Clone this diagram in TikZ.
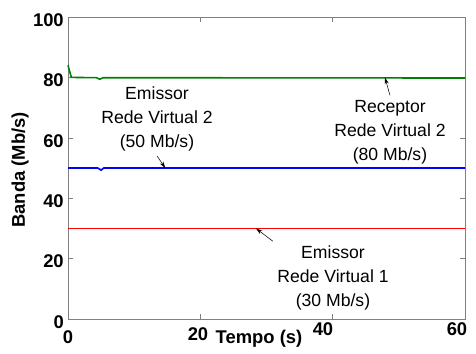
\documentclass[tikz,border=0pt]{standalone}
\usepackage{fontspec}
\setmainfont{Liberation Sans}
\usetikzlibrary{arrows.meta, positioning}
\definecolor{mgreen}{RGB}{0,128,0}

\begin{document}
\begin{tikzpicture}[x=0.75pt, y=0.75pt, >={Stealth[length=5pt, width=3pt]},
  tick/.style={font=\bfseries\fontsize{13.8}{13.8}\selectfont, inner sep=0pt},
  note/.style={align=center, font=\fontsize{13.2}{18}\selectfont},
  frame/.style={draw=gray, line width=0.6pt},
  curve/.style={line width=1.2pt}]
\useasboundingbox (0,0) rectangle (476,354);
% plot area 397 x 302 px
\begin{scope}[shift={(68,35)}, x=4.9625pt, y=2.265pt]
\draw[frame] (0,0) rectangle (60,100);
\foreach \t in {20,40} {
  \draw[gray] (\t,0) -- ++(0,1.5);
  \draw[gray] (\t,100) -- ++(0,-1.5);
}
\foreach \v in {20,40,60,80} {
  \draw[gray] (0,\v) -- ++(0.8,0);
  \draw[gray] (60,\v) -- ++(-0.8,0);
}
% measured bands
\draw[curve, mgreen] (0,84) -- (0.5,80) -- (4.3,79.9) -- (4.8,79.4) -- (5.3,79.9) -- (60,79.8);
\draw[curve, blue] (0,50) -- (4.5,50) -- (5,49.3) -- (5.4,50) -- (60,50);
\draw[curve, red] (0,30) -- (60,30);
\coordinate (p1) at (28.4,30);
\coordinate (p2) at (14.7,50);
\coordinate (p3) at (47.9,80);
\end{scope}

% tick labels
\foreach \v in {0,20,40,60,80,100}
  \node[tick, anchor=east] (y\v) at (64,{32+3.02*\v}) {\v};
\foreach \v/\px/\py in {0/68/17, 20/198/20, 40/323/25, 60/457/25}
  \node[tick] (x\v) at (\px,\py) {\v};
\node[tick, rotate=90] (ylab) at (20,184) {Banda (Mb/s)};
\node[tick] (xlab) at (259,15) {Tempo (s)};

% annotations
\node[note] (em2) at (157,235) {Emissor\\Rede Virtual 2\\(50 Mb/s)};
\node[note] (rec) at (390,222) {Receptor\\Rede Virtual 2\\(80 Mb/s)};
\node[note] (em1) at (333,76) {Emissor\\Rede Virtual 1\\(30 Mb/s)};
\draw[->] (em2.south) -- (p2);
\draw[->] (rec.north) -- (p3);
\draw[->] (em1.north west) -- (p1);
\end{tikzpicture}
\end{document}
